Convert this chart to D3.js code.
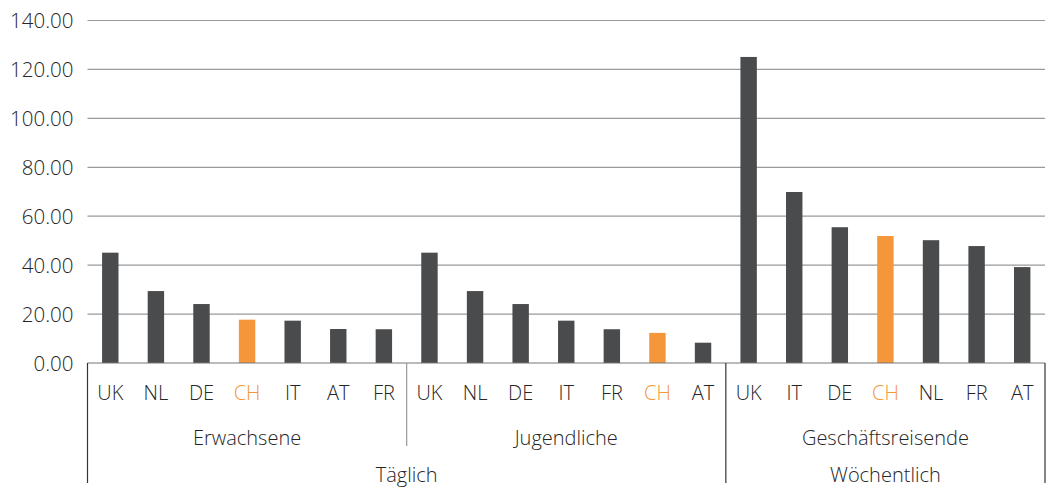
<!DOCTYPE html>
<html>
<head>
<meta charset="utf-8">
<script src="https://cdn.jsdelivr.net/npm/d3@7"></script>
<style>
  body { margin: 0; background: #fff; }
  svg text { font-family: "Open Sans", "Noto Sans", sans-serif; font-weight: 350; fill: #262626; }
</style>
</head>
<body>
<div id="chart"></div>
<script>
// data
var groups = ["Erwachsene", "Jugendliche", "Geschäftsreisende"];
var periods = ["Täglich", "Wöchentlich"];
var periodGroups = [[0, 1], [2]];
var countries = [
  ["UK", "NL", "DE", "CH", "IT", "AT", "FR"],
  ["UK", "NL", "DE", "IT", "FR", "CH", "AT"],
  ["UK", "IT", "DE", "CH", "NL", "FR", "AT"]
];
var values = [
  [45.1, 29.4, 24.1, 17.7, 17.3, 13.9, 13.8],
  [45.1, 29.4, 24.1, 17.3, 13.8, 12.3, 8.3],
  [125.1, 69.9, 55.5, 51.9, 50.2, 47.8, 39.2]
];
var yTicks = [0, 20, 40, 60, 80, 100, 120, 140];
var highlight = "CH";

var width = 1049, height = 489;
var margin = { top: 20.5, right: 4, bottom: 126, left: 87.5 };

var rows = [];
groups.forEach(function(g, gi) {
  countries[gi].forEach(function(c, ci) {
    rows.push({ key: gi + "-" + ci, group: gi, country: c, value: values[gi][ci] });
  });
});

var svg = d3.select("#chart").append("svg")
    .attr("width", width)
    .attr("height", height);

var x = d3.scaleBand()
    .domain(rows.map(function(d) { return d.key; }))
    .range([margin.left, width - margin.right])
    .paddingInner(0.64)
    .paddingOuter(0.32);

var y = d3.scaleLinear()
    .domain([0, 140])
    .range([height - margin.bottom, margin.top]);

var y0 = y(0);

// gridlines
svg.append("g")
    .selectAll("line")
    .data(yTicks.filter(function(t) { return t > 0; }))
    .enter().append("line")
    .attr("x1", margin.left)
    .attr("x2", width - margin.right)
    .attr("y1", function(d) { return y(d); })
    .attr("y2", function(d) { return y(d); })
    .attr("stroke", "#9a9a9a")
    .attr("stroke-width", 1.2);

// y axis labels
var yAxis = svg.append("g")
    .attr("transform", "translate(" + (margin.left - 14) + ",0)")
    .call(d3.axisLeft(y).tickValues(yTicks).tickSize(0).tickPadding(0).tickFormat(d3.format(".2f")));
yAxis.select(".domain").remove();
yAxis.selectAll("text")
    .attr("font-size", "20.5px")
    .attr("font-family", null)
    .attr("dy", "0.35em");

// bars
svg.append("g")
    .selectAll("rect")
    .data(rows)
    .enter().append("rect")
    .attr("x", function(d) { return x(d.key); })
    .attr("width", x.bandwidth())
    .attr("y", function(d) { return y(d.value); })
    .attr("height", function(d) { return y0 - y(d.value); })
    .attr("fill", function(d) { return d.country === highlight ? "#f5963a" : "#4a4b4d"; });

// baseline
svg.append("line")
    .attr("x1", margin.left)
    .attr("x2", width - margin.right)
    .attr("y1", y0)
    .attr("y2", y0)
    .attr("stroke", "#777")
    .attr("stroke-width", 1.2);

// category labels
var xAxis = svg.append("g")
    .attr("transform", "translate(0," + y0 + ")")
    .call(d3.axisBottom(x).tickSize(0).tickPadding(0)
      .tickFormat(function(k) { return rows.find(function(r) { return r.key === k; }).country; }));
xAxis.select(".domain").remove();
xAxis.selectAll("text")
    .attr("font-size", "20px")
    .attr("font-family", null)
    .attr("y", 30)
    .attr("dy", "0.35em")
    .style("fill", function(k) {
      return rows.find(function(r) { return r.key === k; }).country === highlight ? "#f5963a" : "#262626";
    });

// group edges in pixel space
function groupStart(gi) {
  return gi === 0 ? margin.left : (x(gi - 1 + "-6") + x(gi + "-0") + x.bandwidth()) / 2;
}
function groupEnd(gi) {
  return gi === groups.length - 1 ? width - margin.right : groupStart(gi + 1);
}

svg.append("g")
    .selectAll("text")
    .data(groups)
    .enter().append("text")
    .attr("x", function(d, i) { return (groupStart(i) + groupEnd(i)) / 2; })
    .attr("y", y0 + 75)
    .attr("dy", "0.35em")
    .attr("text-anchor", "middle")
    .attr("font-size", "20px")
    .text(function(d) { return d; });

svg.append("g")
    .selectAll("text")
    .data(periods)
    .enter().append("text")
    .attr("x", function(d, i) {
      var gs = periodGroups[i];
      return (groupStart(gs[0]) + groupEnd(gs[gs.length - 1])) / 2;
    })
    .attr("y", y0 + 112)
    .attr("dy", "0.35em")
    .attr("text-anchor", "middle")
    .attr("font-size", "20px")
    .text(function(d) { return d; });

// separators: inner group line (short, light) and period lines (long, dark)
var seps = [];
periodGroups.forEach(function(gs, pi) {
  seps.push({ x: groupStart(gs[0]), len: 120, color: "#333" });
  gs.slice(1).forEach(function(gi) {
    seps.push({ x: groupStart(gi), len: 83, color: "#999" });
  });
});
seps.push({ x: width - margin.right, len: 120, color: "#333" });

svg.append("g")
    .selectAll("line")
    .data(seps)
    .enter().append("line")
    .attr("x1", function(d) { return d.x; })
    .attr("x2", function(d) { return d.x; })
    .attr("y1", y0)
    .attr("y2", function(d) { return y0 + d.len; })
    .attr("stroke", function(d) { return d.color; })
    .attr("stroke-width", 1.2);
</script>
</body>
</html>
